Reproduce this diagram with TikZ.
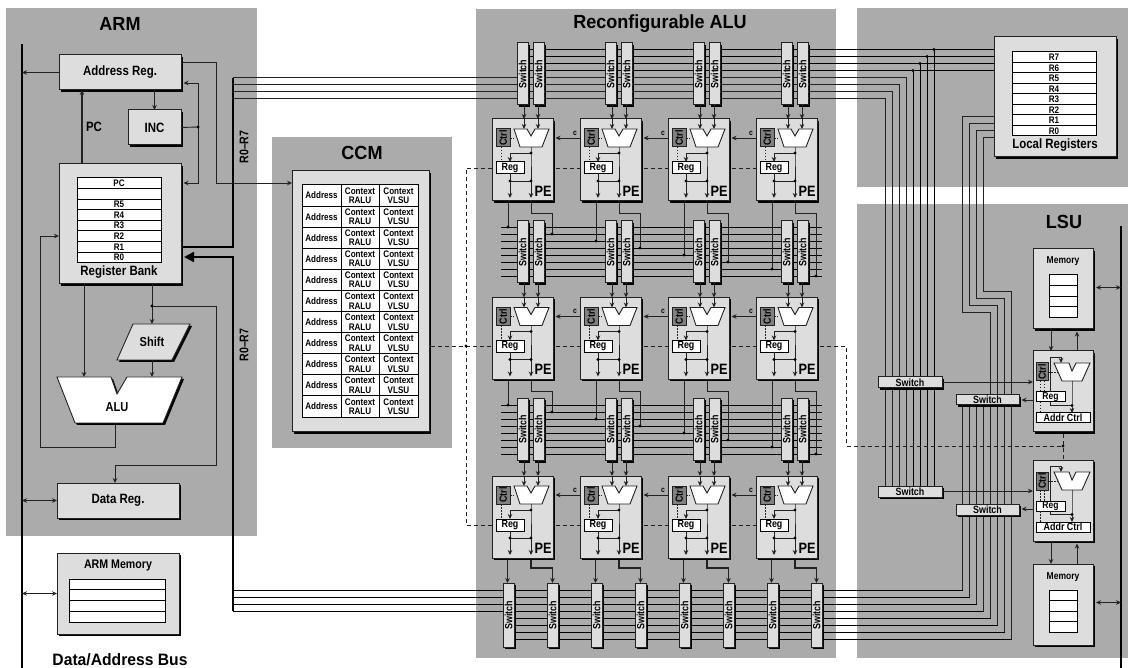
\documentclass[tikz,border=0pt]{standalone}
\usepackage{fontspec}
\usepackage{graphicx}
\setmainfont{Liberation Sans}
\newfontfamily\nf[FakeStretch=0.85]{Liberation Sans}
\newfontfamily\tf[FakeStretch=0.95]{Liberation Sans}
\newcommand{\fs}[1]{\fontsize{#1}{#1}\selectfont}
\usetikzlibrary{arrows.meta,shadows,calc}
\pgfdeclarelayer{panels}\pgfdeclarelayer{buslayer}
\pgfsetlayers{panels,buslayer,main}
\definecolor{panelc}{HTML}{ABABAB}
\definecolor{boxc}{HTML}{DDDDDD}
\definecolor{ctrlc}{HTML}{808080}
\definecolor{linec}{HTML}{222222}
\tikzset{
  x=1pt,y=-1pt,
  >={Stealth[length=5pt,width=4.5pt]},
  panel/.style={fill=panelc,draw=none},
  box/.style={draw=linec,line width=1pt,inner sep=0pt,outer sep=0pt,align=center,text=black},
  sh/.style={general shadow={fill=black,shadow xshift=2pt,shadow yshift=-2pt}},
  blockbox/.style={box,fill=boxc,sh,font=\nf\bfseries\fs{13.5}},
  smallbox/.style={box,fill=boxc,sh,font=\nf\bfseries\fs{10}},
  switchbox/.style={box,fill=boxc,sh,font=\nf\bfseries\fs{10.5}},
  cell/.style={box,fill=white,draw=black,font=\nf\bfseries\fs{9.5}},
  tcell/.style={box,fill=white,draw=black,font=\nf\bfseries\fs{9.5}},
  ctrlbox/.style={box,fill=ctrlc,font=\nf\bfseries\fs{10.5}},
  title/.style={inner sep=0pt,text=black,font=\tf\bfseries\fs{19}},
  lbl/.style={inner sep=0pt,text=black,font=\nf\bfseries\fs{13.5}},
  pelabel/.style={inner sep=0pt,text=black,font=\nf\bfseries\fs{15}},
  clabel/.style={inner sep=0pt,text=black,font=\nf\bfseries\fs{8}},
  w/.style={draw=linec,line width=0.9pt},
  bw/.style={draw=black,line width=0.9pt},
  thickw/.style={draw=black,line width=2pt},
  dsh/.style={draw=linec,line width=0.9pt,dash pattern=on 4pt off 3pt},
  dott/.style={draw=linec,line width=0.9pt,dash pattern=on 1.5pt off 1.5pt},
  dotm/.style={fill=black,draw=none},
  aluw/.style={fill=white,draw=linec,line width=0.9pt},
  alus/.style={fill=black,draw=none},
}
\newcommand{\bx}[7][]{\node[#1,minimum width={((#5)-(#3))*1pt},minimum height={((#6)-(#4))*1pt}] (#2) at ({((#3)+(#5))/2},{((#4)+(#6))/2}) {#7};}
\newcommand{\dt}[1]{\fill[dotm] (#1) circle (1.6pt);}
\newcommand{\minialu}[1]{\filldraw[aluw] #1;}
\newcommand{\shapeshadow}[1]{\begin{scope}[shift={(2,2)}]\fill[alus] #1;\end{scope}}
\begin{document}
\begin{tikzpicture}
\useasboundingbox (0,0) rectangle (1128,668);
\begin{pgfonlayer}{panels}
 \fill[panel] (6,8) rectangle (257,536);
 \fill[panel] (272,137) rectangle (452,448);
 \fill[panel] (476,9) rectangle (836,658);
 \fill[panel] (857,8) rectangle (1128,187);
 \fill[panel] (857,204) rectangle (1128,658);
\end{pgfonlayer}
% titles
\node[title] (tARM) at (120,24) {ARM};
\node[title] (tCCM) at (362,153) {CCM};
\node[title] (tRALU) at (660,24) {Reconfigurable ALU};
\node[title] (tLSU) at (1064,222) {LSU};
\node[inner sep=0pt,font=\tf\bfseries\fs{16.5}] (tBus) at (120,660) {Data/Address Bus};
% buses
\coordinate (busT) at (22,44); \coordinate (busB) at (22,668);
\coordinate (rbusT) at (1121,226); \coordinate (rbusB) at (1121,668);
\draw[thickw] (busT) -- (busB);
\draw[thickw] (rbusT) -- (rbusB);
% ARM blocks
\bx[blockbox]{addr}{59}{55}{181}{90}{Address Reg.}
\bx[blockbox]{inc}{128}{110}{181}{145}{INC}
\bx[blockbox]{bank}{59}{164}{181}{284}{}
\foreach \k/\t in {0/PC,1/{},2/R5,3/R4,4/R3,5/R2,6/R1,7/R0}{
  \bx[cell]{br\k}{77}{178+10.6*\k}{161}{178+10.6*(\k+1)}{\t}
}
\node[lbl] (bankl) at (119,272.5) {Register Bank};
\node[lbl] (pcl) at (94,127) {PC};
\node[lbl,font=\nf\bfseries\fs{12.5},rotate=90] (rr1) at (244,147) {R0–R7};
\node[lbl,font=\nf\bfseries\fs{12.5},rotate=90] (rr2) at (244,345) {R0–R7};
\shapeshadow{(133,324) -- (190,324) -- (172,360) -- (117,360) -- cycle}
\fill[boxc] (133,324) -- (190,324) -- (172,360) -- (117,360) -- cycle;
\draw[w] (133,324) -- (190,324) -- (172,360) -- (117,360) -- cycle;
\node[lbl,font=\nf\bfseries\fs{13}] (shifter) at (152,342) {Shift};
\shapeshadow{(57,377) -- (111,377) -- (117,394) -- (127,377) -- (182,377) -- (163,423) -- (75,423) -- cycle}
\minialu{(57,377) -- (111,377) -- (117,394) -- (127,377) -- (182,377) -- (163,423) -- (75,423) -- cycle}
\node[lbl,font=\nf\bfseries\fs{13}] (alumain) at (117,407) {ALU};
\bx[blockbox]{dreg}{57}{483}{179}{518}{Data Reg.}
\bx[blockbox,font=\nf\bfseries\fs{12.5}]{amem}{57}{553}{179}{634}{}
\node[lbl,font=\nf\bfseries\fs{12.5}] (amemt) at (118,565) {ARM Memory};
\foreach \k in {0,1,2,3}{\bx[cell]{am\k}{69.5}{579+10.75*\k}{165}{579+10.75*(\k+1)}{}}
% CCM
\bx[blockbox]{ccm}{292}{171}{429}{432}{}
\foreach \k in {0,...,10}{
  \bx[tcell]{ca\k}{302}{185+21.1*\k}{341}{185+21.1*(\k+1)}{Address}
  \bx[tcell]{cb\k}{341}{185+21.1*\k}{379}{185+21.1*(\k+1)}{Context\\RALU}
  \bx[tcell]{cc\k}{379}{185+21.1*\k}{418}{185+21.1*(\k+1)}{Context\\VLSU}
}
% Local registers
\bx[blockbox]{lreg}{994}{37}{1116}{157}{}
\foreach \k/\t in {0/R7,1/R6,2/R5,3/R4,4/R3,5/R2,6/R1,7/R0}{
  \bx[cell]{lr\k}{1012}{52+10.5*\k}{1096}{52+10.5*(\k+1)}{\t}
}
\node[lbl] (lregl) at (1055,145.5) {Local Registers};
% RALU switch rows
\foreach \rr/\sy in {1/43,2/221,3/398.5}{
 \foreach \cc/\px in {1/492,2/580,3/668,4/756}{
  \bx[switchbox]{sa\rr\cc}{\px+25}{\sy}{\px+36}{\sy+62}{\rotatebox{90}{Switch}}
  \bx[switchbox]{sb\rr\cc}{\px+41}{\sy}{\px+52}{\sy+62}{\rotatebox{90}{Switch}}
 }
}
% RALU bottom switches
\foreach \k in {1,...,8}{
  \bx[switchbox]{sz\k}{503+44*(\k-1)}{583}{514+44*(\k-1)}{647}{\rotatebox{90}{Switch}}
}
% PEs
\foreach \rr/\py in {1/119,2/297.5,3/476}{
 \foreach \cc/\px in {1/492,2/580,3/668,4/756}{
  \begin{scope}[shift={(\px,\py)}]
   \bx[smallbox]{pe\rr\cc}{0}{0}{61}{82}{}
   \node[pelabel] (pl\rr\cc) at (51,72) {PE};
   \bx[ctrlbox]{ct\rr\cc}{4}{10}{18}{28}{\rotatebox{90}{Ctrl}}
   \minialu{(22,10) -- (35,10) -- (39,17) -- (43,10) -- (57,10) -- (50,28) -- (28,28) -- cycle}
   \bx[cell,font=\nf\bfseries\fs{10.5}]{reg\rr\cc}{4}{43}{32}{55}{Reg}
   \coordinate (aOut) at (39,28); \coordinate (aD) at (39,34); \coordinate (aM) at (39,62);
   \coordinate (aB) at (39,79); \coordinate (rM) at (18,62); \coordinate (rB) at (18,79);
   \coordinate (aI) at (22,19); \coordinate (in1) at (32,0); \coordinate (in2) at (46,0);
   \coordinate (in1t) at (32,10); \coordinate (in2t) at (46,10);
   \coordinate (dotx) at (9,28); \coordinate (dotz) at (9,43);
   \draw[w] (aOut) -- (aD) -- (aM);
   \draw[w,->] (aM) -- (aB);
   \draw[w,->] (aD) -| (reg\rr\cc.north -| rB);
   \draw[w] (reg\rr\cc.south -| rB) -- (rM);
   \draw[w,->] (rM) -- (rB);
   \draw[w] (rM) -- (aM);
   \dt{aD}\dt{aM}\dt{rM}
   \draw[dott] (ct\rr\cc.east) -- (aI);
   \draw[dott] (dotx) -- (dotz);
   \draw[w,->] (sa\rr\cc.south -| in1) -- (in1);
   \draw[w,->] (in1) -- (in1t);
   \draw[w,->] (sb\rr\cc.south -| in2) -- (in2);
   \draw[w,->] (in2) -- (in2t);
  \end{scope}
 }
}
% c arrows and horizontal dashes
\foreach \rr in {1,2,3}{
 \foreach \cc/\nx in {1/2,2/3,3/4}{
  \draw[w,->] (pe\rr\nx.west |- ct\rr\nx) -- ([xshift=2.5pt]pe\rr\cc.east |- ct\rr\nx);
  \node[clabel] (cl\rr\cc) at ([shift={(-5,-5)}]pe\rr\nx.west |- ct\rr\nx) {c};
  \draw[dsh] ([xshift=3pt]pe\rr\cc.east |- reg\rr\cc) -- (pe\rr\nx.west |- reg\rr\cc);
 }
}
% LSU switches, PEs, memories
\bx[switchbox]{swA1}{878}{377}{942}{388}{Switch}
\bx[switchbox]{swB1}{956}{395}{1019}{405}{Switch}
\bx[switchbox]{swA2}{878}{486}{942}{497}{Switch}
\bx[switchbox]{swB2}{956}{504}{1019}{515}{Switch}
\foreach \k/\py/\sa/\sb in {1/351/swA1/swB1,2/460/swA2/swB2}{
 \begin{scope}[shift={(1033,\py)}]
  \bx[smallbox]{lp\k}{0}{0}{60}{81}{}
  \bx[ctrlbox]{lc\k}{3}{12}{15}{30}{\rotatebox{90}{Ctrl}}
  \minialu{(21,12) -- (36,12) -- (39,20) -- (43,12) -- (57,12) -- (49,30) -- (29,30) -- cycle}
  \bx[cell,font=\nf\bfseries\fs{10}]{lg\k}{3}{41}{32}{51}{Reg}
  \bx[cell,font=\nf\bfseries\fs{10.5}]{la\k}{3}{62}{57}{72}{Addr Ctrl}
  \coordinate (aOut) at (39,30); \coordinate (aM) at (39,54.5); \coordinate (rM) at (17.5,54.5);
  \coordinate (up) at (17.5,6); \coordinate (upr) at (28,6); \coordinate (uprt) at (28,12);
  \coordinate (d1) at (7,30); \coordinate (d2) at (7,41); \coordinate (d3) at (11,30); \coordinate (d4) at (11,41);
  \coordinate (d5) at (7,51); \coordinate (d6) at (7,62); \coordinate (aI) at (25,21);
  \coordinate (inA) at (0,31); \coordinate (outB) at (0,49);
  \draw[w,->] (aOut) -- (aM) -- (la\k.north -| aM);
  \draw[w] (lg\k.south -| rM) -- (rM) -- (aM);
  \dt{aM}
  \draw[w,->] (lg\k.north -| up) -- (up) -- (upr) -- (uprt);
  \draw[dott] (lc\k.east |- aI) -- (aI);
  \draw[dott] (d1) -- (d2); \draw[dott] (d3) -- (d4); \draw[dott] (d5) -- (d6);
  \draw[w,->] (\sa.east |- inA) -- (inA);
  \draw[w,->] (outB) -- ([xshift=2.5pt]\sb.east |- outB);
 \end{scope}
}
\foreach \k/\py/\h/\tt in {1/249/80/261,2/564/81/577}{
  \bx[smallbox]{mm\k}{1033}{\py}{1093}{\py+\h}{}
  \node[lbl,font=\nf\bfseries\fs{10}] (mt\k) at (1063,\tt) {Memory};
  \foreach \j in {0,1,2,3}{\bx[cell]{mc\k\j}{1049}{\py+26+10.6*\j}{1077}{\py+26+10.6*(\j+1)}{}}
  \coordinate (mR\k) at (1096,\py+38.5);
  \draw[w,<->] (mR\k) -- (mR\k -| rbusT);
}
% LSU <-> memory arrows
\coordinate (lx1) at (1051,300); \coordinate (lx2) at (1077,300);
\draw[w,->] ([yshift=-2pt]mm1.south -| lx1) -- (lp1.north -| lx1);
\draw[w,->] (lp1.north -| lx2) -- ([yshift=-2.5pt]mm1.south -| lx2);
\draw[w,->] ([yshift=-2pt]lp2.south -| lx1) -- (mm2.north -| lx1);
\draw[w,->] (mm2.north -| lx2) -- ([yshift=-2.5pt]lp2.south -| lx2);
% LSU dashed
\coordinate (dv) at (846,446); \coordinate (dj) at (1063,446);
\draw[dsh] ([xshift=3pt]pe24.east |- reg24) -| (dv) -- (dj);
\draw[dsh] ([yshift=-2pt]lp1.south) -- (lp2.north);
\dt{dj}
% CCM dashed distribution
\coordinate (dc) at (466,346);
\draw[dsh] ([xshift=2pt]ccm.east |- dc) -- (pe21.west |- dc);
\draw[dsh] (pe11.west |- reg11) -| (dc);
\draw[dsh] (pe31.west |- reg31) -| (dc);
\dt{dc}
% ARM connectors
\draw[w,->] (addr.west) -- (addr.west -| busT);
\coordinate (pcb) at (82,164);
\draw[w,line width=1.2pt,->] (pcb) -- (pcb |- addr.south);
\draw[w,->] (addr.south -| inc.north) -- (inc.north);
\coordinate (jn) at (198,127); \coordinate (aE) at (183.5,83); \coordinate (bE) at (183.5,183);
\draw[w] (inc.east) -- (jn);
\draw[w,->] (jn) |- (aE);
\draw[w,->] (jn) |- (bE);
\dt{jn}
\coordinate (aO) at (183,62); \coordinate (lk) at (216,183);
\draw[w,->] (aO) -| (lk) -- (lk -| ccm.west);
\coordinate (bb1) at (84,284); \coordinate (bb2) at (152,284); \coordinate (bd) at (152,306);
\coordinate (ai1) at (84,377); \coordinate (ai2) at (152,377); \coordinate (si) at (152,324);
\coordinate (so) at (152,360);
\draw[w,->] (bb1) -- (ai1);
\draw[w] (bb2) -- (bd);
\draw[w,->] (bd) -- (si);
\dt{bd}
\draw[w,->] (so) -- (ai2);
\coordinate (xr) at (216,465); \coordinate (xl) at (115,465);
\draw[w,->] (bd) -| (xr) -- (xl) -- (xl |- dreg.north);
\coordinate (ao) at (115,423); \coordinate (al) at (40,447); \coordinate (bi) at (59,236);
\draw[w,->] (ao) |- (al) |- (bi);
\draw[w,<->] (dreg.west) -- (dreg.west -| busT);
\draw[w,<->] (amem.west) -- (amem.west -| busT);
% R0-R7 thick wires
\coordinate (tk) at (233,247); \coordinate (tb) at (183,247); \coordinate (tk2) at (233,78);
\draw[thickw] (tb) -- (tk) -- (tk2);
\coordinate (ik) at (233,257); \coordinate (ib) at (184,257); \coordinate (ik2) at (233,611);
\draw[thickw,-{Triangle[length=10pt,width=10pt]}] (ik2) -- (ik) -- (ib);
% buses behind the boxes
\begin{pgfonlayer}{buslayer}
 % top
 \foreach \k/\vx in {0/934,1/927,2/920,3/913}{
   \coordinate (tp\k) at (517,49.5+7*\k);
   \coordinate (tv\k) at (\vx,49.5+7*\k);
   \draw[bw] (tp\k) -- (tp\k -| lreg.west);
   \draw[bw] (tv\k) -- (tv\k |- swA2.north);
   \dt{tv\k}
 }
 \foreach \k/\vx in {4/906,5/899,6/892,7/885}{
   \coordinate (tl\k) at (233,49.5+7*\k);
   \coordinate (tw\k) at (\vx,49.5+7*\k);
   \draw[w] (tl\k) -- (tw\k) -- (tw\k |- swA2.north);
 }
 % middle rows
 \foreach \bs/\rr in {227/1,405/2}{
  \foreach \k in {0,...,7}{
   \coordinate (ml\rr\k) at (501,\bs+7*\k);
   \coordinate (mr\rr\k) at (822,\bs+7*\k);
   \draw[bw] (ml\rr\k) -- (mr\rr\k);
  }
 }
 % bottom
 \foreach \k in {0,...,7}{
   \coordinate (bv\k) at (962.5+7*\k,590+7*\k);
   \draw[w] (bv\k) -- (bv\k |- swB1.south);
 }
 \foreach \k in {0,...,3}{
   \coordinate (bl\k) at (233,590+7*\k);
   \draw[bw] (bl\k) -- (bv\k);
 }
 \foreach \k in {4,...,7}{
   \coordinate (bl\k) at (514,590+7*\k);
   \draw[bw] (bl\k) -- (bv\k);
 }
 % local registers to lower switches
 \foreach \k/\ly/\my/\ox in {0/116/312/990.5,1/123/305/997.5,2/130/298/1004.5,3/137/291/1011.5}{
   \coordinate (la\k) at (962.5+7*\k,\ly);
   \coordinate (lb\k) at (\ox,\my);
   \draw[w] (la\k -| lreg.west) -- (la\k) |- (lb\k) -- (lb\k |- swB1.north);
 }
\end{pgfonlayer}
% PE outputs to middle buses
\foreach \rr/\bs in {1/227,2/405}{
 \foreach \cc/\ka/\kb/\px in {1/0/1/492,2/2/3/580,3/4/5/668,4/6/7/756}{
   \coordinate (p\rr\cc o1) at (\px+16,\bs+7*\ka);
   \coordinate (p\rr\cc o2) at (\px+39,\bs+7*\kb);
   \coordinate (p\rr\cc e) at (\px+60,\bs+7*\kb);
   \draw[w] ([yshift=-2pt]pe\rr\cc.south -| p\rr\cc o1) -- (p\rr\cc o1);
   \dt{p\rr\cc o1}
   \draw[w] ([yshift=-2pt]pe\rr\cc.south -| p\rr\cc o2) -- ([yshift=-12pt]pe\rr\cc.south -| p\rr\cc o2) -| (p\rr\cc e);
   \dt{p\rr\cc e}
 }
}
% PE outputs to bottom switches
\foreach \cc/\sa/\sb/\px in {1/1/2/492,2/3/4/580,3/5/6/668,4/7/8/756}{
  \coordinate (z\cc a) at (\px+15.5,560);
  \coordinate (z\cc b) at (\px+39,568);
  \draw[w,line width=1.1pt,->] ([yshift=-2pt]pe3\cc.south -| z\cc a) -- (sz\sa.north -| z\cc a);
  \draw[w,line width=1.1pt,->] ([yshift=-2pt]pe3\cc.south -| z\cc b) -- (z\cc b) -| (sz\sb.north);
}
\end{tikzpicture}
\end{document}
